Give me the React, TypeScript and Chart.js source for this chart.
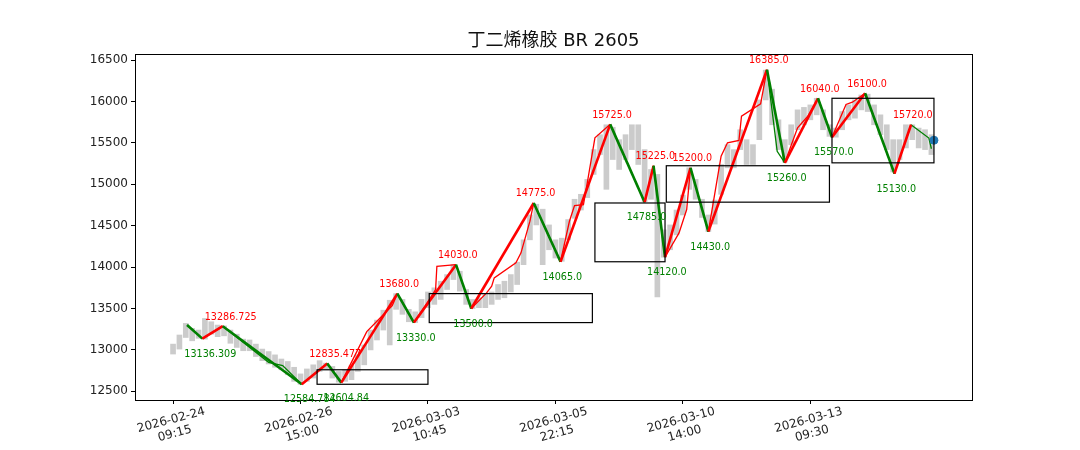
import React, { useEffect, useRef } from 'react';
import { Chart, registerables } from 'chart.js';

Chart.register(...registerables);

const TITLE = '丁二烯橡胶 BR 2605';

const X_MIN = -29.85;
const X_MAX = 626.85;
const Y_MIN = 12394.77;
const Y_MAX = 16575;

const Y_TICKS = [12500, 13000, 13500, 14000, 14500, 15000, 15500, 16000, 16500];
const X_TICKS = [0, 100, 200, 300, 400, 500];
const X_TICK_LABELS = [
  ['2026-02-24', '09:15'],
  ['2026-02-26', '15:00'],
  ['2026-03-03', '10:45'],
  ['2026-03-05', '22:15'],
  ['2026-03-10', '14:00'],
  ['2026-03-13', '09:30'],
];

// gray price bars (bar index, low, high)
const BAR_IDX = [
  0, 5, 10, 15, 20, 25, 30, 35, 40, 45, 50, 55, 60, 65, 70, 75, 80, 85, 90, 95,
  100, 105, 110, 115, 120, 125, 130, 135, 140, 145, 150, 155, 160, 165, 170, 175, 180, 185, 190, 195,
  200, 205, 210, 215, 220, 225, 230, 235, 240, 245, 250, 255, 260, 265, 270, 275, 280, 285, 290, 295,
  300, 305, 310, 315, 320, 325, 330, 335, 340, 345, 350, 355, 360, 365, 370, 375, 380, 385, 390, 395,
  400, 405, 410, 415, 420, 425, 430, 435, 440, 445, 450, 455, 460, 465, 470, 475, 480, 485, 490, 495,
  500, 505, 510, 515, 520, 525, 530, 535, 540, 545, 550, 555, 560, 565, 570, 575, 580, 585, 590, 595,
];
const BAR_LOW = [
  12950, 13010, 13150, 13110, 13140, 13130, 13190, 13160, 13170, 13080, 13030, 12990, 12990, 12920, 12870, 12830, 12790, 12760, 12700, 12620,
  12585, 12620, 12660, 12740, 12760, 12660, 12610, 12620, 12640, 12740, 12820, 13000, 13120, 13240, 13060, 13490, 13430, 13340, 13330, 13390,
  13510, 13550, 13610, 13730, 13850, 13710, 13550, 13500, 13510, 13510, 13550, 13610, 13630, 13700, 13790, 14030, 14330, 14510, 14030, 14210,
  14110, 14070, 14330, 14590, 14690, 14840, 15120, 15360, 14940, 15300, 15180, 15300, 15420, 15240, 14790, 14820, 13640, 14120, 14210, 14390,
  14630, 14940, 14820, 14600, 14430, 14520, 14880, 15200, 15200, 15420, 15240, 15240, 15540, 16020, 15720, 15420, 15270, 15480, 15660, 15720,
  15780, 15840, 15660, 15580, 15570, 15660, 15780, 15800, 15900, 15880, 15720, 15600, 15420, 15150, 15300, 15440, 15540, 15440, 15420, 15360,
];
const BAR_HIGH = [
  13070, 13180, 13320, 13260, 13240, 13380, 13340, 13300, 13290, 13240, 13190, 13130, 13120, 13070, 13010, 12980, 12940, 12890, 12860, 12790,
  12710, 12770, 12820, 12870, 12840, 12800, 12740, 12760, 12810, 12940, 13060, 13240, 13360, 13480, 13600, 13680, 13610, 13490, 13460, 13610,
  13700, 13750, 13830, 13910, 14030, 13950, 13730, 13610, 13630, 13670, 13700, 13790, 13830, 13910, 14060, 14330, 14630, 14760, 14700, 14510,
  14330, 14350, 14575, 14820, 14880, 15060, 15420, 15600, 15720, 15690, 15540, 15600, 15720, 15720, 15420, 15180, 15120, 14450, 14510, 14690,
  14870, 15200, 15060, 14820, 14630, 14810, 15240, 15480, 15420, 15660, 15540, 15480, 16020, 16380, 16150, 15780, 15540, 15720, 15900, 15930,
  15960, 16040, 15900, 15720, 15680, 15880, 15960, 16020, 16080, 16090, 15960, 15840, 15720, 15540, 15540, 15720, 15720, 15680, 15660, 15600,
];

// thick zigzag (segments)
const SEG_IDX = [11, 23, 39, 101, 121, 132, 176, 189, 222, 234, 283, 304, 343, 370, 377, 386, 406, 420, 466, 480, 506, 517, 543, 566, 579];
const SEG_VAL = [13300, 13136.309, 13286.725, 12584.784, 12835.477, 12604.84, 13680, 13330, 14030, 13500, 14775, 14065, 15725, 14785, 15225, 14120, 15200, 14430, 16385, 15260, 16040, 15570, 16100, 15130, 15720];

// thin zigzag (strokes)
const BI_IDX = [
  11, 23, 39, 75, 86, 101, 121, 132, 152, 172, 176, 189, 201, 206, 207, 222, 234, 246, 250, 252, 269, 273, 280, 283,
  304, 311, 315, 322, 325, 331, 343, 370, 377, 386, 397, 403, 406, 420, 430, 435, 444, 446, 461, 466, 474, 480,
  490, 498, 506, 517, 528, 533, 543, 566, 579, 593, 595,
];
const BI_VAL = [
  13300, 13136.309, 13286.725, 12850, 12810, 12584.784, 12835.477, 12604.84, 13221, 13536, 13680, 13330, 13608, 13729, 14010, 14030, 13500, 13689, 13770, 13870, 14052, 14173, 14555, 14775,
  14065, 14554, 14744, 14756, 15018, 15562, 15725, 14785, 15225, 14120, 14414, 14696, 15200, 14430, 15340, 15502, 15530, 15823, 15973, 16385, 15400, 15260,
  15683, 15823, 16040, 15570, 15965, 15993, 16100, 15130, 15720, 15560, 15430,
];

const LAST_IDX = [597];
const LAST_VAL = [15533];

// pivot boxes
const BOX_X0 = [113, 201, 331, 387, 517];
const BOX_X1 = [200, 329, 386, 515, 597];
const BOX_LOW = [12584.784, 13330, 14065, 14785, 15260];
const BOX_HIGH = [12760, 13680, 14775, 15225, 16040];

// extreme labels
const LBL_IDX = [23, 39, 101, 121, 132, 176, 189, 222, 234, 283, 304, 343, 370, 377, 386, 406, 420, 466, 480, 506, 517, 543, 566, 579];
const LBL_VAL = [13136.309, 13286.725, 12584.784, 12835.477, 12604.84, 13680, 13330, 14030, 13500, 14775, 14065, 15725, 14785, 15225, 14120, 15200, 14430, 16385, 15260, 16040, 15570, 16100, 15130, 15720];
const LBL_TEXT = ['13136.309', '13286.725', '12584.784', '12835.477', '12604.84', '13680.0', '13330.0', '14030.0', '13500.0', '14775.0', '14065.0', '15725.0', '14785.0', '15225.0', '14120.0', '15200.0', '14430.0', '16385.0', '15260.0', '16040.0', '15570.0', '16100.0', '15130.0', '15720.0'];
const LBL_KIND = ['L', 'H', 'L', 'H', 'L', 'H', 'L', 'H', 'L', 'H', 'L', 'H', 'L', 'H', 'L', 'H', 'L', 'H', 'L', 'H', 'L', 'H', 'L', 'H'];

const RED = '#ff0000';
const GREEN = '#008000';
const FONT = "'DejaVu Sans', 'Noto Sans CJK SC', sans-serif";

const overlayPlugin = {
  id: 'overlay',
  afterDatasetsDraw(chart: any) {
    const { ctx, chartArea, scales } = chart;
    const xs = scales.x;
    const ys = scales.y;
    ctx.save();
    // boxes
    ctx.strokeStyle = '#000';
    ctx.lineWidth = 1.2;
    for (let i = 0; i < BOX_X0.length; i++) {
      const x0 = xs.getPixelForValue(BOX_X0[i]);
      const x1 = xs.getPixelForValue(BOX_X1[i]);
      const y0 = ys.getPixelForValue(BOX_HIGH[i]);
      const y1 = ys.getPixelForValue(BOX_LOW[i]);
      ctx.strokeRect(x0, y0, x1 - x0, y1 - y0);
    }
    // frame
    ctx.lineWidth = 1;
    ctx.strokeRect(
      Math.round(chartArea.left) + 0.5,
      Math.round(chartArea.top) + 0.5,
      Math.round(chartArea.right - chartArea.left),
      Math.round(chartArea.bottom - chartArea.top)
    );
    // labels
    ctx.font = `9.6px ${FONT}`;
    ctx.textAlign = 'left';
    ctx.textBaseline = 'middle';
    for (let i = 0; i < LBL_IDX.length; i++) {
      const px = xs.getPixelForValue(LBL_IDX[i]);
      const py = ys.getPixelForValue(LBL_VAL[i]);
      if (LBL_KIND[i] === 'H') {
        ctx.fillStyle = RED;
        ctx.fillText(LBL_TEXT[i], px - 18, py - 9);
      } else {
        ctx.fillStyle = GREEN;
        ctx.fillText(LBL_TEXT[i], px - 18, py + 15.5);
      }
    }
    // x tick labels
    ctx.fillStyle = '#222';
    ctx.font = `12px ${FONT}`;
    ctx.textAlign = 'center';
    for (let i = 0; i < X_TICKS.length; i++) {
      const px = xs.getPixelForValue(X_TICKS[i]);
      ctx.save();
      ctx.translate(px, chartArea.bottom + 27);
      ctx.rotate((-15 * Math.PI) / 180);
      ctx.fillText(X_TICK_LABELS[i][0], 0, -7);
      ctx.fillText(X_TICK_LABELS[i][1], 0, 7);
      ctx.restore();
    }
    // title
    ctx.fillStyle = '#111';
    ctx.font = `18px ${FONT}`;
    ctx.textAlign = 'center';
    ctx.textBaseline = 'alphabetic';
    ctx.fillText(TITLE, (chartArea.left + chartArea.right) / 2, chartArea.top - 8);
    ctx.restore();
  },
};

export default function App() {
  const ref = useRef<HTMLCanvasElement | null>(null);
  useEffect(() => {
    if (!ref.current) return;
    const segColor = (c: any) => (c.p1.parsed.y >= c.p0.parsed.y ? RED : GREEN);
    const chart = new Chart(ref.current, {
      type: 'bar',
      data: {
        datasets: [
          {
            type: 'bar',
            data: BAR_IDX.map((x, i) => ({ x, y: [BAR_LOW[i], BAR_HIGH[i]] })) as any,
            backgroundColor: '#cbcbcb',
            borderWidth: 0,
            barThickness: 5,
            order: 4,
          } as any,
          {
            type: 'line',
            data: BI_IDX.map((x, i) => ({ x, y: BI_VAL[i] })),
            borderColor: RED,
            borderWidth: 1.3,
            pointRadius: 0,
            tension: 0,
            segment: { borderColor: segColor },
            order: 3,
          } as any,
          {
            type: 'line',
            data: SEG_IDX.map((x, i) => ({ x, y: SEG_VAL[i] })),
            borderColor: RED,
            borderWidth: 2.6,
            pointRadius: 0,
            tension: 0,
            segment: { borderColor: segColor },
            order: 2,
          } as any,
          {
            type: 'scatter',
            data: LAST_IDX.map((x, i) => ({ x, y: LAST_VAL[i] })),
            backgroundColor: '#1f77b4',
            borderColor: '#1f77b4',
            pointRadius: 4,
            order: 1,
          } as any,
        ],
      },
      options: {
        responsive: false,
        animation: false,
        devicePixelRatio: 1,
        layout: { padding: { top: 54, right: 108, left: 0, bottom: 0 } },
        plugins: { legend: { display: false }, tooltip: { enabled: false }, title: { display: false } },
        scales: {
          x: {
            type: 'linear',
            min: X_MIN,
            max: X_MAX,
            offset: false,
            grid: { display: true, drawOnChartArea: false, drawTicks: true, tickLength: 4, color: '#000', offset: false },
            border: { display: false },
            ticks: { display: false },
            afterBuildTicks: (s: any) => {
              s.ticks = X_TICKS.map((v) => ({ value: v }));
            },
            afterFit: (s: any) => {
              s.height = 50;
            },
          },
          y: {
            type: 'linear',
            min: Y_MIN,
            max: Y_MAX,
            grid: { display: true, drawOnChartArea: false, drawTicks: true, tickLength: 4, color: '#000' },
            border: { display: false },
            ticks: {
              padding: 3,
              color: '#222',
              font: { family: FONT, size: 12 },
              callback: (v: any) => String(v),
            } as any,
            afterBuildTicks: (s: any) => {
              s.ticks = Y_TICKS.map((v) => ({ value: v }));
            },
            afterFit: (s: any) => {
              s.width = 135;
            },
          },
        },
      } as any,
      plugins: [overlayPlugin],
    });
    return () => chart.destroy();
  }, []);
  return (
    <div style={{ position: 'absolute', left: 0, top: 0, width: 1080, height: 450, background: '#fff' }}>
      <canvas ref={ref} width={1080} height={450} />
    </div>
  );
}
